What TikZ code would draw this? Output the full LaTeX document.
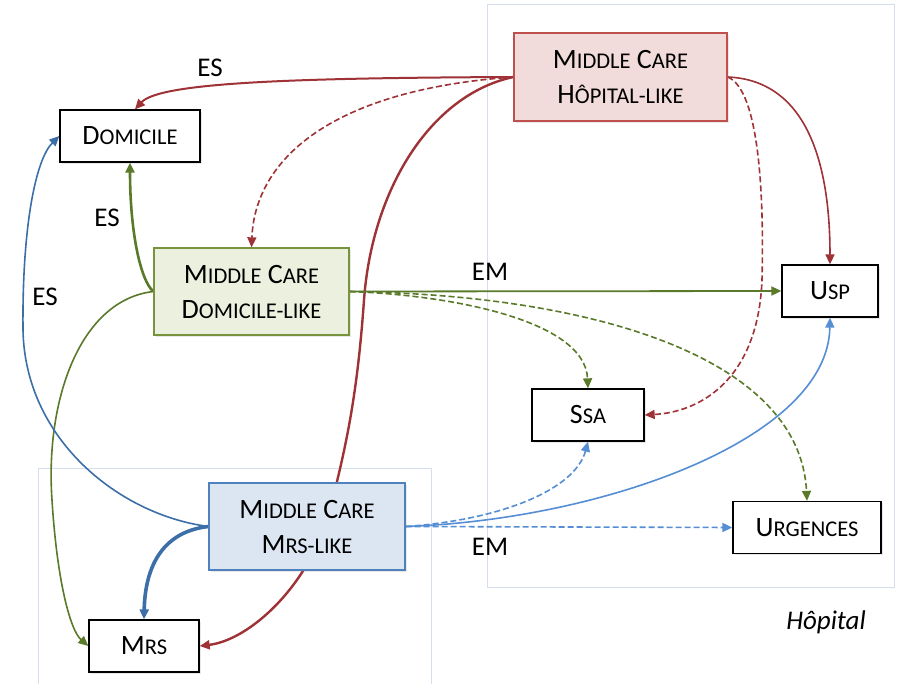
\documentclass[tikz,border=0pt]{standalone}
\usepackage{fontspec}
\setmainfont{Carlito}
\usetikzlibrary{arrows.meta,backgrounds,shadows}
\newcommand\smc[1]{{\fontsize{22.5}{35}\selectfont #1}}
\definecolor{redE}{HTML}{9E3236}
\definecolor{redB}{HTML}{C0504D}
\definecolor{redF}{HTML}{F2DCDB}
\definecolor{grnE}{HTML}{5A7A2A}
\definecolor{grnB}{HTML}{77933C}
\definecolor{grnF}{HTML}{EBF1DE}
\definecolor{bluD}{HTML}{3C6EA8}
\definecolor{bluL}{HTML}{558ED5}
\definecolor{bluB}{HTML}{4F81BD}
\definecolor{bluF}{HTML}{DCE6F2}
\definecolor{regB}{HTML}{D4DEEC}
\begin{document}
\begin{tikzpicture}[x=1pt,y=-1pt,
  shad/.style={drop shadow={opacity=0.18,shadow xshift=2pt,shadow yshift=-2pt}},
  box/.style={draw=black,line width=1.3pt,fill=white,shad,minimum width=#1,minimum height=52pt,inner sep=0pt,font=\fontsize{28}{35}\selectfont},
  mc/.style={line width=1.3pt,shad,minimum width=195pt,minimum height=87pt,inner sep=0pt,align=center,font=\fontsize{28}{35}\selectfont},
  region/.style={draw=regB,line width=1pt},
  arr/.style={-{Triangle[length=10pt,width=9pt]},line width=1.6pt},
  dsh/.style={dash pattern=on 6pt off 3pt},
  lbl/.style={font=\fontsize{27}{30}\selectfont,inner sep=0pt}]
\useasboundingbox (0,0) rectangle (903,684);
% nodes
\node[box=140pt] (dom) at (130,136) {D\smc{OMICILE}};
\node[mc,draw=redB,fill=redF,minimum width=213pt,minimum height=88pt] (hop) at (620.5,77) {M\smc{IDDLE} C\smc{ARE}\\H\smc{ÔPITAL-LIKE}};
\node[mc,draw=grnB,fill=grnF] (dcl) at (251.5,291.5) {M\smc{IDDLE} C\smc{ARE}\\D\smc{OMICILE-LIKE}};
\node[mc,draw=bluB,fill=bluF,minimum width=196pt] (mrl) at (307,526.5) {M\smc{IDDLE} C\smc{ARE}\\M\smc{RS-LIKE}};
\node[box=110pt] (mrs) at (144,646) {M\smc{RS}};
\node[box=96pt] (usp) at (830,291) {U\smc{SP}};
\node[box=112pt] (ssa) at (588,415) {S\smc{SA}};
\node[box=148pt] (urg) at (807,527.5) {U\smc{RGENCES}};
\node[lbl,font=\fontsize{27}{30}\selectfont\itshape] (hl) at (826,622) {Hôpital};
% labels
\node[lbl] (es1) at (210,68) {ES};
\node[lbl] (es2) at (107,218) {ES};
\node[lbl] (es3) at (45,297) {ES};
\node[lbl] (em1) at (490,272) {EM};
\node[lbl] (em2) at (490,547) {EM};
\begin{scope}[on background layer]
\fill[white] (0,0) rectangle (903,684);
% regions
\draw[region] (487,5) rectangle (894,587);
\draw[region] (38,700) -- (38,469) -- (431,469) -- (431,700);
% red edges
\draw[arr,redE,line width=2pt] (hop.west) .. controls (300,78) and (160,82) .. ([xshift=5pt]dom.north);
\draw[arr,redE,dsh] (hop.west) .. controls (330,90) and (255,160) .. (dcl.north);
\draw[arr,redE,line width=2.4pt] (hop.west) .. controls (430,95) and (372,190) .. (364,300) .. controls (357,400) and (345,450) .. (330,510) .. controls (310,585) and (250,640) .. (mrs.east);
\draw[arr,redE] (hop.east) .. controls (800,80) and (830,150) .. (usp.north);
\draw[arr,redE,dsh] (hop.east) .. controls (760,90) and (764,200) .. (762,280) .. controls (758,380) and (700,412) .. (ssa.east);
% green edges
\draw[arr,grnE,line width=2.6pt] (dcl.west) .. controls (140,280) and (130,230) .. (dom.south);
\draw[arr,grnE] (dcl.west) .. controls (80,300) and (45,400) .. (52,500) .. controls (57,580) and (70,630) .. (mrs.west);
\draw[arr,grnE,line width=1.8pt] (dcl.east) -- (usp.west);
\draw[arr,grnE,dsh] (dcl.east) .. controls (450,295) and (585,320) .. (ssa.north);
\draw[arr,grnE,dsh] (dcl.east) .. controls (600,295) and (800,360) .. (urg.north);
% blue edges
\draw[arr,bluD] (mrl.west) .. controls (120,515) and (25,440) .. (23,330) .. controls (22,230) and (35,160) .. (dom.west);
\draw[arr,bluD,line width=3.6pt] (mrl.west) .. controls (160,532) and (145,570) .. (mrs.north);
\draw[arr,bluL,dsh] (mrl.east) -- (urg.west);
\draw[arr,bluL,dsh] (mrl.east) .. controls (500,520) and (575,490) .. (ssa.south);
\draw[arr,bluL] (mrl.east) .. controls (600,520) and (828,440) .. (usp.south);
\end{scope}
\end{tikzpicture}
\end{document}
